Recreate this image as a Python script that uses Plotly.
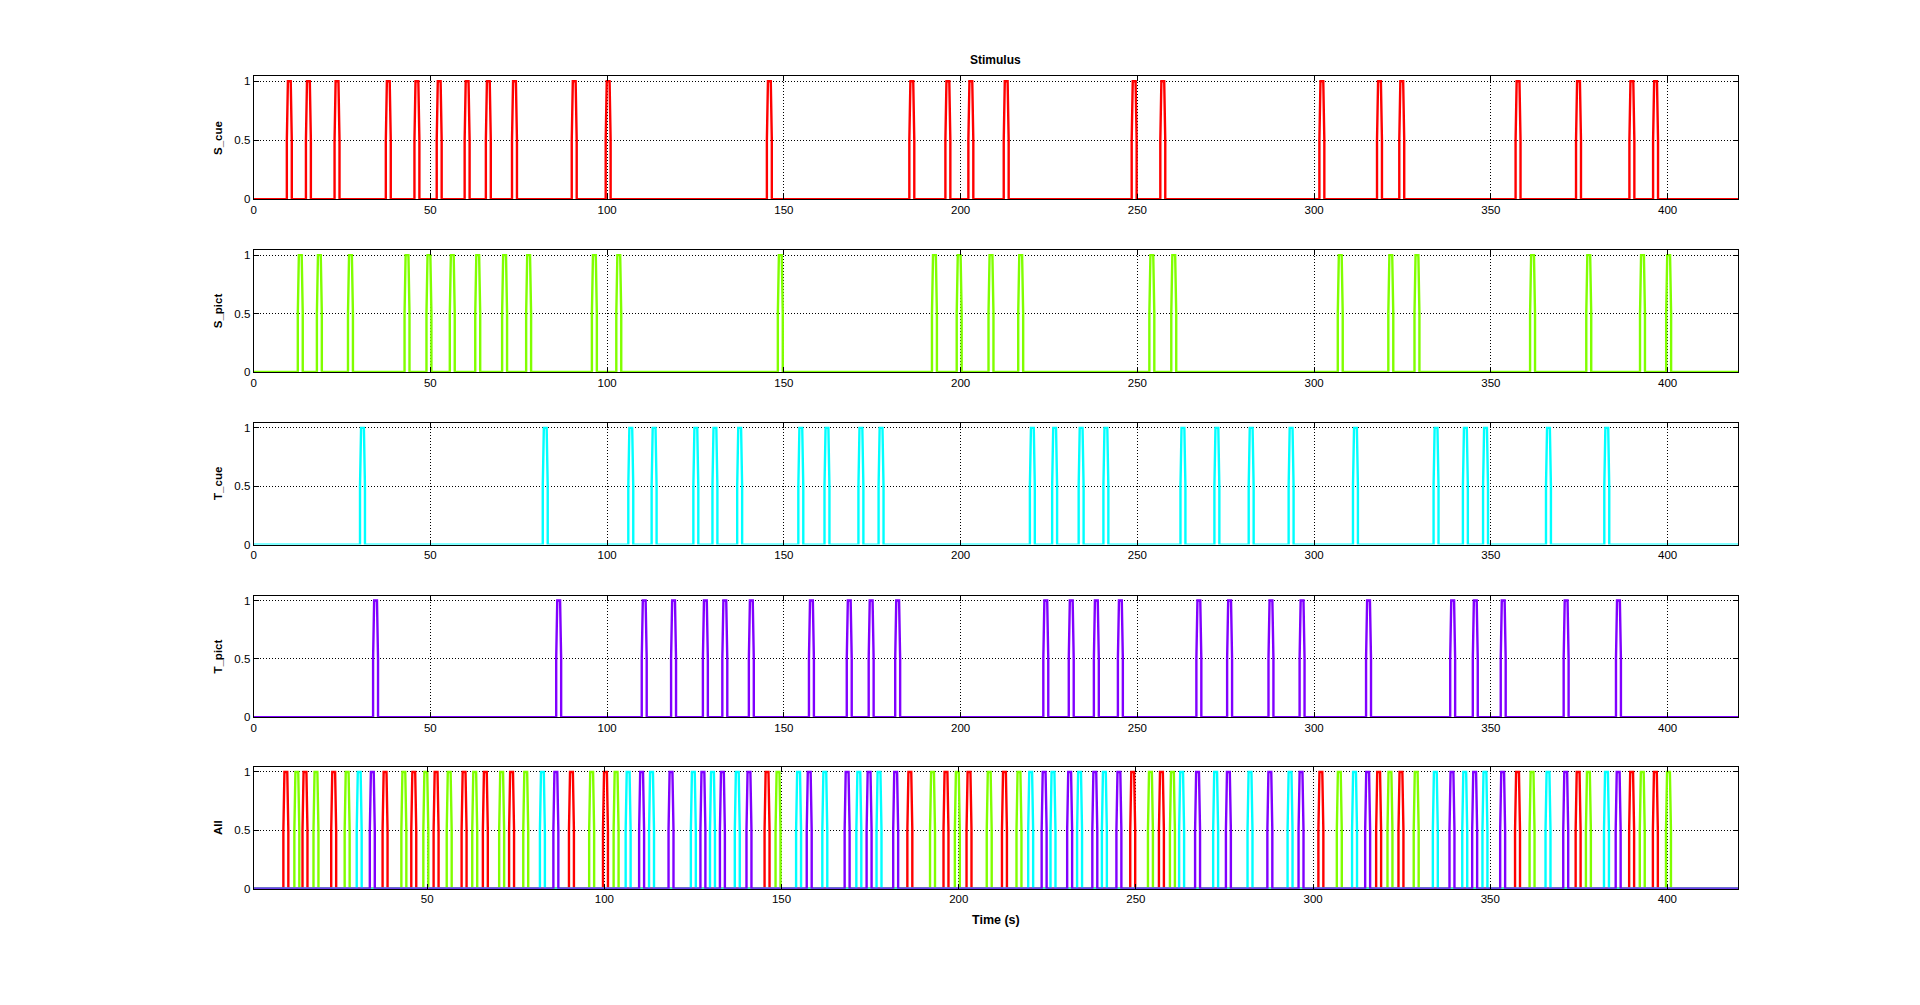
import plotly.graph_objects as go

# Pulse centre times (s)
s_cue = [10.1, 15.5, 23.6, 38.1, 46.2, 52.5, 60.4, 66.4, 73.8, 90.7, 100.3, 145.9,
         186.2, 196.4, 202.9, 212.9, 249.1, 257.2, 302.2, 318.5, 324.8, 357.7,
         374.8, 389.9, 396.6]
s_pict = [13.2, 18.6, 27.4, 43.4, 49.6, 56.2, 63.4, 71.0, 77.8, 96.4, 103.3, 149.0,
          192.6, 199.6, 208.6, 217.0, 254.1, 260.3, 307.4, 321.7, 329.1, 361.8,
          377.7, 392.9, 400.3]
t_cue = [30.8, 82.5, 106.7, 113.3, 125.1, 130.5, 137.5, 154.8, 162.2, 171.8, 177.5,
         220.3, 226.6, 234.1, 241.1, 262.9, 272.5, 282.2, 293.5, 311.7, 334.5,
         342.8, 348.5, 366.3, 382.8]
t_pict = [34.5, 86.3, 110.5, 118.8, 127.8, 133.3, 140.8, 157.8, 168.5, 174.7, 182.2,
          224.1, 231.3, 238.4, 245.2, 267.4, 276.1, 287.8, 296.6, 315.4, 339.2,
          345.6, 353.5, 371.3, 386.1]

series_names = ["S_cue", "S_pict", "T_cue", "T_pict"]
series_vals = [s_cue, s_pict, t_cue, t_pict]
colors = ["#ff0000", "#80ff00", "#00ffff", "#8000ff"]
x_ticks = [0, 50, 100, 150, 200, 250, 300, 350, 400]
y_ticks = [0, 0.5, 1]

T_END = 420.0


def waveform(centres, t0):
    xs, ys = [t0], [0]
    for c in centres:
        xs += [c - 0.7, c - 0.7, c - 0.4, c + 0.4, c + 0.7, c + 0.7]
        ys += [0, 0.5, 1, 1, 0.5, 0]
    xs.append(T_END)
    ys.append(0)
    return xs, ys


W, H = 1920, 1005
x0, x1 = 251 / W, 1738 / W
panels = [(75.9, 199.6), (251.0, 373.5), (424.9, 547.4), (598.8, 721.2), (771.4, 893.9)]

fig = go.Figure()
FONT = "Liberation Sans, Arial, sans-serif"
font_tick = dict(family=FONT, size=11.5, color="black")

axis_common = dict(
    showline=True, linecolor="black", linewidth=1, mirror="ticks",
    ticks="inside", ticklen=5, tickcolor="black", tickwidth=1,
    showgrid=True, gridcolor="black", griddash="1px,2px", gridwidth=1,
    zeroline=False, tickfont=font_tick,
)

for i in range(5):
    n = i + 1
    xa = "x" if n == 1 else f"x{n}"
    ya = "y" if n == 1 else f"y{n}"
    top, bot = panels[i]
    if i < 4:
        xs, ys = waveform(series_vals[i], 0.0)
        fig.add_trace(go.Scatter(x=xs, y=ys, mode="lines", xaxis=xa, yaxis=ya,
                                 line=dict(color=colors[i], width=2.4), hoverinfo="skip",
                                 showlegend=False))
        xr = [0, T_END]
        ylab = series_names[i]
    else:
        for j in range(4):
            xs, ys = waveform(series_vals[j], 1.0)
            fig.add_trace(go.Scatter(x=xs, y=ys, mode="lines", xaxis=xa, yaxis=ya,
                                     line=dict(color=colors[j], width=2.4), hoverinfo="skip",
                                     showlegend=False))
        xr = [1.0, T_END]
        ylab = "All"
    fig.update_layout(**{
        ("xaxis" if n == 1 else f"xaxis{n}"): dict(
            axis_common, domain=[x0, x1], range=xr, anchor=ya,
            tickvals=x_ticks, ticktext=[str(v) for v in x_ticks]),
        ("yaxis" if n == 1 else f"yaxis{n}"): dict(
            axis_common, domain=[1 - bot / H, 1 - top / H], range=[0, 1.042], anchor=xa,
            tickvals=y_ticks, ticktext=["0", "0.5", "1"]),
    })
    fig.add_annotation(text=f"<b>{ylab}</b>", xref="paper", yref="paper",
                       x=215.5 / W, y=1 - (top + bot) / 2 / H, textangle=-90,
                       showarrow=False, xanchor="center", yanchor="middle",
                       font=dict(family=FONT, size=11.5, color="black"))

fig.add_annotation(text="<b>Stimulus</b>", xref="paper", yref="paper",
                   x=(251 + 1738) / 2 / W, y=1 - 59 / H, showarrow=False,
                   xanchor="center", yanchor="middle",
                   font=dict(family=FONT, size=12, color="black"))
fig.add_annotation(text="<b>Time (s)</b>", xref="paper", yref="paper",
                   x=(251 + 1738) / 2 / W, y=1 - 925.5 / H, showarrow=False,
                   xanchor="center", yanchor="middle",
                   font=dict(family=FONT, size=12.5, color="black"))

fig.update_layout(width=W, height=H, autosize=False, margin=dict(l=0, r=0, t=0, b=0),
                  paper_bgcolor="white", plot_bgcolor="white", showlegend=False)

fig.write_html("out.html", config={"responsive": False})

with open("out.html", "r", encoding="utf-8") as f:
    html = f.read()
html = html.replace("<head>", "<head><style>html,body{margin:0;padding:0;overflow:hidden;}</style>", 1)
with open("out.html", "w", encoding="utf-8") as f:
    f.write(html)
